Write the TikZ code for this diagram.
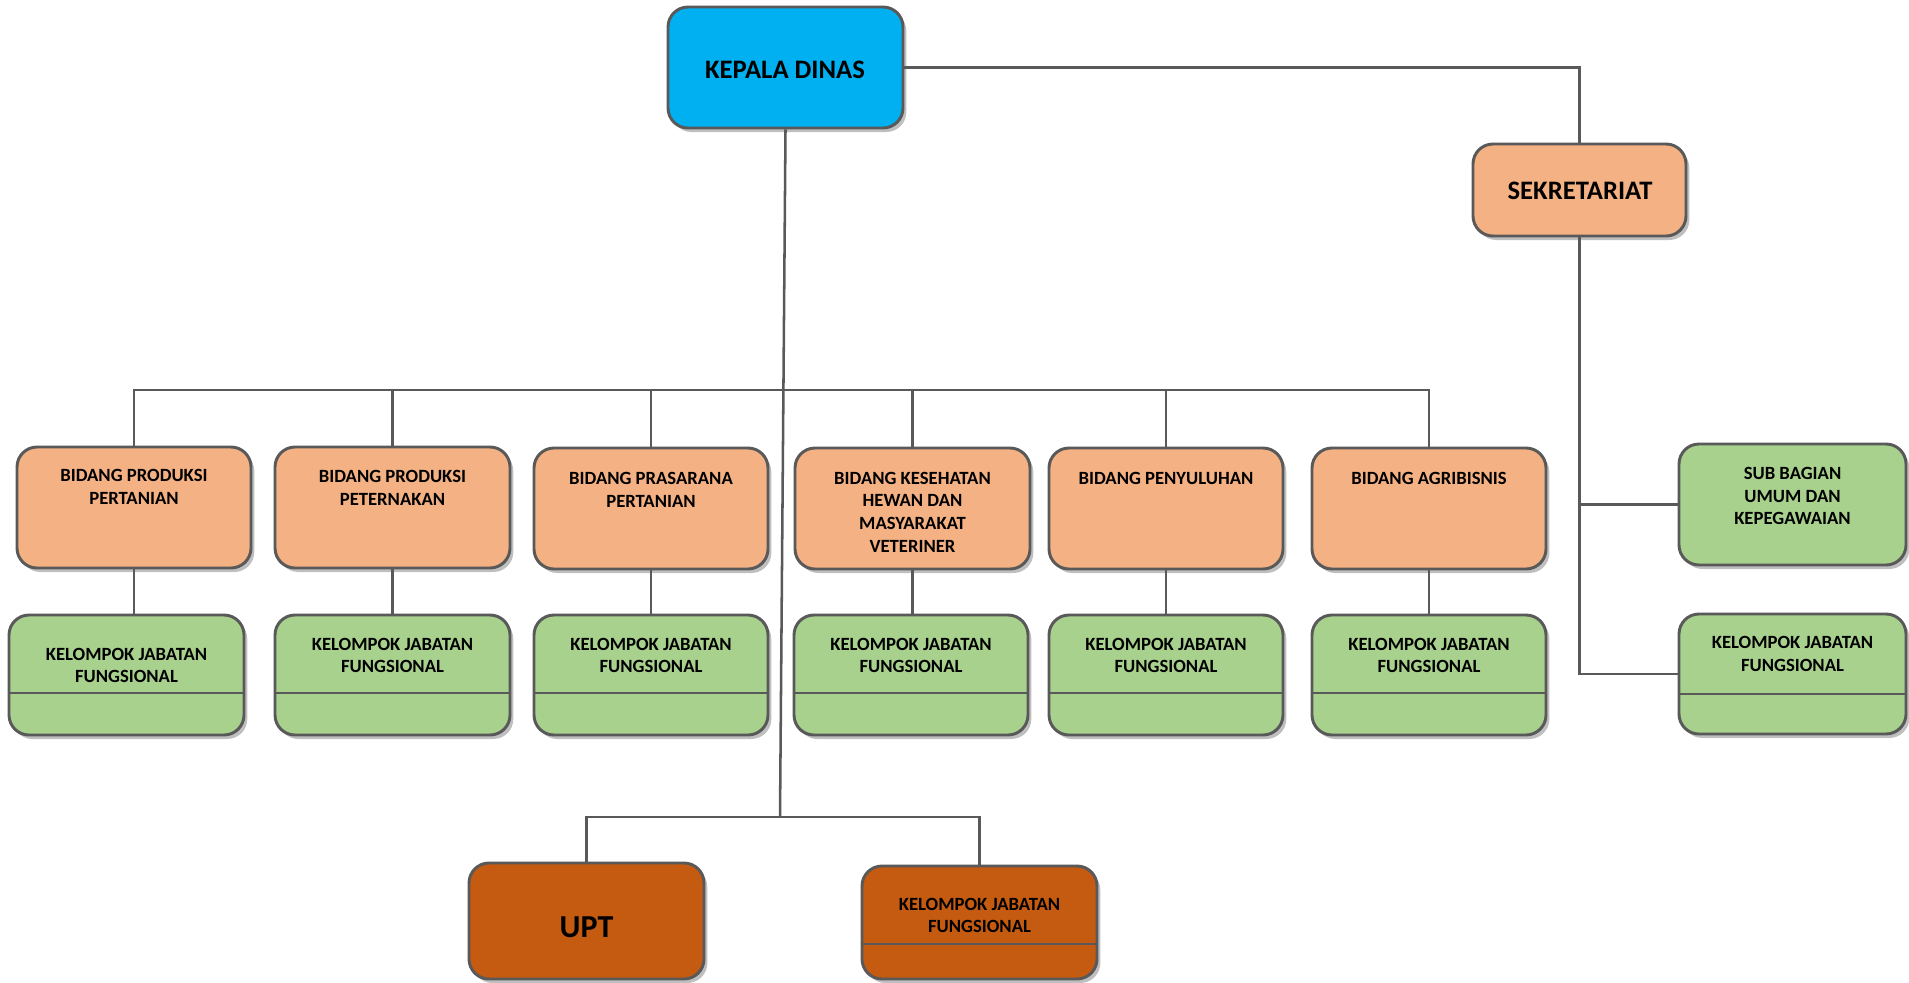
\documentclass[tikz,border=0pt]{standalone}
\usepackage{fontspec}
\setmainfont{Carlito}
\usetikzlibrary{shadows}
\newdimen\px \px=0.75pt
\definecolor{bordc}{HTML}{595959}
\definecolor{kdblue}{HTML}{00B0F0}
\definecolor{orng}{HTML}{F4B183}
\definecolor{grn}{HTML}{A9D18E}
\definecolor{dorng}{HTML}{C55A11}
\tikzset{
  bx/.style n args={2}{draw=bordc, line width=2.2pt, rounded corners=15pt,
    minimum width=#1*\px, minimum height=#2*\px, inner sep=0pt,
    drop shadow={opacity=0.25, shadow xshift=2.5pt, shadow yshift=-3pt, fill=black}},
  conn/.style={draw=bordc, line width=1.9pt},
  divl/.style={draw=bordc, line width=2.2pt},
  txt/.style={inner sep=0pt, align=center, font=\fontsize{14}{17}\selectfont\bfseries},
}
\begin{document}
\begin{tikzpicture}[x=0.75pt, y=-0.75pt]
\useasboundingbox (0,0) rectangle (1909,982);
\clip (0,0) rectangle (1909,982);
% boxes
\node[bx={235}{121}, fill=kdblue] (kd) at (785.5,67.5) {};
\node[bx={213}{92}, fill=orng] (sek) at (1579.5,190) {};
\node[bx={227}{121}, fill=grn] (sub) at (1792.5,504.5) {};
\node[bx={227}{120}, fill=grn] (kjr) at (1792.5,674) {};
\node[bx={234}{121}, fill=orng] (b1) at (134,507.5) {};
\node[bx={235}{121}, fill=orng] (b2) at (392.5,507.5) {};
\node[bx={234}{121}, fill=orng] (b3) at (651,508.5) {};
\node[bx={235}{121}, fill=orng] (b4) at (912.5,508.5) {};
\node[bx={234}{121}, fill=orng] (b5) at (1166,508.5) {};
\node[bx={234}{121}, fill=orng] (b6) at (1429,508.5) {};
\node[bx={235}{120}, fill=grn] (k1) at (126.5,675) {};
\node[bx={235}{120}, fill=grn] (k2) at (392.5,675) {};
\node[bx={234}{120}, fill=grn] (k3) at (651,675) {};
\node[bx={234}{120}, fill=grn] (k4) at (911,675) {};
\node[bx={234}{120}, fill=grn] (k5) at (1166,675) {};
\node[bx={234}{120}, fill=grn] (k6) at (1429,675) {};
\node[bx={235}{116}, fill=dorng] (upt) at (586.5,921) {};
\node[bx={235}{113}, fill=dorng] (kjb) at (979.5,922.5) {};
% dividers
\foreach \n in {k1,k2,k3,k4,k5,k6}{
  \draw[divl] (\n.west |- 0,693) -- (\n.east |- 0,693);
}
\draw[divl] (kjr.west |- 0,694) -- (kjr.east |- 0,694);
\draw[divl] (kjb.west |- 0,944) -- (kjb.east |- 0,944);
% texts
\node[txt, font=\fontsize{20}{24}\selectfont\bfseries] (tkd) at (785,70) {KEPALA DINAS};
\node[txt, font=\fontsize{20}{24}\selectfont\bfseries] (tsek) at (1580,191) {SEKRETARIAT};
\node[txt] (tsub) at (1792.5,496) {SUB BAGIAN\\UMUM DAN\\KEPEGAWAIAN};
\node[txt] (tkjr) at (1792.5,654) {KELOMPOK JABATAN\\FUNGSIONAL};
\node[txt] (tb1) at (134,487) {BIDANG PRODUKSI\\PERTANIAN};
\node[txt] (tb2) at (392.5,488) {BIDANG PRODUKSI\\PETERNAKAN};
\node[txt] (tb3) at (651,490) {BIDANG PRASARANA\\PERTANIAN};
\node[txt] (tb4) at (912.5,512) {BIDANG KESEHATAN\\HEWAN DAN\\MASYARAKAT\\VETERINER};
\node[txt] (tb5) at (1166,478) {BIDANG PENYULUHAN};
\node[txt] (tb6) at (1429,478) {BIDANG AGRIBISNIS};
\node[txt] (tk1) at (126.5,665.5) {KELOMPOK JABATAN\\FUNGSIONAL};
\node[txt] (tk2) at (392.5,655.5) {KELOMPOK JABATAN\\FUNGSIONAL};
\node[txt] (tk3) at (651,655.5) {KELOMPOK JABATAN\\FUNGSIONAL};
\node[txt] (tk4) at (911,655.5) {KELOMPOK JABATAN\\FUNGSIONAL};
\node[txt] (tk5) at (1166,655.5) {KELOMPOK JABATAN\\FUNGSIONAL};
\node[txt] (tk6) at (1429,655.5) {KELOMPOK JABATAN\\FUNGSIONAL};
\node[txt, font=\fontsize{24}{28}\selectfont\bfseries] (tupt) at (586.5,927) {UPT};
\node[txt] (tkjb) at (979.5,915.5) {KELOMPOK JABATAN\\FUNGSIONAL};
% connectors
\coordinate (bus) at (783,390);
\coordinate (lowbus) at (780,817);
\draw[conn] (kd.east) -| (sek.north);
\draw[conn] (kd.south) -- (lowbus);
\draw[conn] (b1.north) |- (bus) -| (b6.north);
\foreach \n in {b2,b3,b4,b5}{
  \draw[conn] (\n.north) -- (\n.north |- bus);
}
\foreach \a/\b in {b1/k1,b2/k2,b3/k3,b4/k4,b5/k5,b6/k6}{
  \draw[conn] (\a.south) -- (\a.south |- \b.north);
}
\draw[conn] (upt.north) |- (lowbus) -| (kjb.north);
\draw[conn] (sek.south) |- (sub.west);
\draw[conn] (sek.south) |- (kjr.west);
\end{tikzpicture}
\end{document}
